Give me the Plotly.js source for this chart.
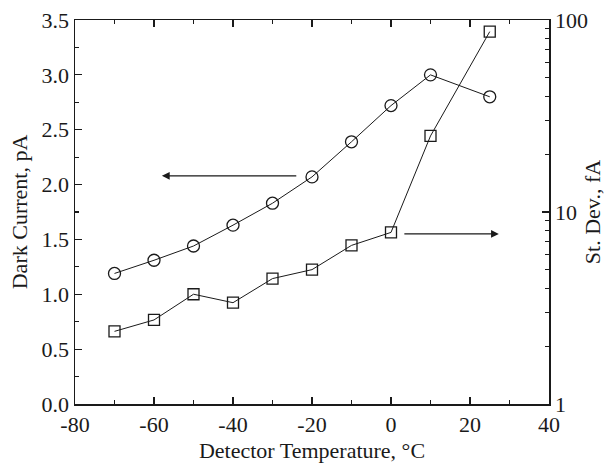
<!DOCTYPE html>
<html>
<head>
<meta charset="utf-8">
<script src="https://cdn.plot.ly/plotly-3.0.1.min.js"></script>
<style>html,body{margin:0;padding:0;background:#fff;}#chart{width:605px;height:463px;}</style>
</head>
<body>
<div id="chart"></div>
<script>
const temperature = [-70, -60, -50, -40, -30, -20, -10, 0, 10, 25];
const darkCurrent = [1.19, 1.31, 1.44, 1.63, 1.83, 2.07, 2.39, 2.72, 3.00, 2.80];
const stDev = [2.39, 2.74, 3.73, 3.37, 4.50, 5.01, 6.70, 7.83, 24.9, 87.0];

const xTickVals = [-80, -60, -40, -20, 0, 20, 40];
const xTickText = ['-80', '-60', '-40', '-20', '0', '20', '40'];
const y2TickVals = [1, 10, 100];
const y2TickText = ['1', '10', '100'];
const y2MinorVals = [2, 3, 4, 5, 6, 7, 8, 9, 20, 30, 40, 50, 60, 70, 80, 90];

const fontFam = '"Liberation Serif", "Times New Roman", serif';
const ink = '#1a1a1a';
const fs = 22;

const traces = [
  {
    x: temperature, y: darkCurrent, type: 'scatter', mode: 'lines+markers',
    line: {color: ink, width: 1},
    marker: {symbol: 'circle-open', size: 12, color: ink, line: {width: 1.3, color: ink}},
    yaxis: 'y', showlegend: false
  },
  {
    x: temperature, y: stDev, type: 'scatter', mode: 'lines+markers',
    line: {color: ink, width: 1},
    marker: {symbol: 'square-open', size: 11, color: ink, line: {width: 1.3, color: ink}},
    yaxis: 'y2', showlegend: false
  }
];

const layout = {
  width: 605, height: 463,
  margin: {l: 75, r: 56, t: 20, b: 59},
  paper_bgcolor: '#fff', plot_bgcolor: '#fff',
  font: {family: fontFam, size: fs, color: ink},
  showlegend: false,
  xaxis: {
    range: [-80, 40], tickmode: 'array', tickvals: xTickVals, ticktext: xTickText,
    ticks: 'inside', ticklen: 7, tickwidth: 1.2, tickcolor: ink,
    minor: {dtick: 10, tick0: -80, ticks: 'inside', ticklen: 4, tickwidth: 1.2, tickcolor: ink},
    showline: true, linewidth: 1.5, linecolor: ink, mirror: 'ticks',
    showgrid: false, zeroline: false,
    tickfont: {family: fontFam, size: fs, color: ink},
    title: {text: 'Detector Temperature, °C', font: {family: fontFam, size: fs, color: ink}, standoff: 6}
  },
  yaxis: {
    range: [0, 3.5], dtick: 0.5, tick0: 0, tickformat: '.1f',
    ticks: 'inside', ticklen: 7, tickwidth: 1.2, tickcolor: ink,
    minor: {dtick: 0.25, ticks: 'inside', ticklen: 4, tickwidth: 1.2, tickcolor: ink},
    showline: true, linewidth: 1.5, linecolor: ink,
    showgrid: false, zeroline: false,
    tickfont: {family: fontFam, size: fs, color: ink},
    title: {text: 'Dark Current, pA', font: {family: fontFam, size: fs, color: ink}, standoff: 8}
  },
  yaxis2: {
    type: 'log', range: [0, 2], overlaying: 'y', side: 'right',
    tickmode: 'array', tickvals: y2TickVals, ticktext: y2TickText,
    ticks: 'inside', ticklen: 7, tickwidth: 1.2, tickcolor: ink,
    minor: {tickmode: 'array', tickvals: y2MinorVals, ticks: 'inside', ticklen: 4, tickwidth: 1.2, tickcolor: ink, showgrid: false},
    showline: true, linewidth: 1.5, linecolor: ink,
    showgrid: false, zeroline: false,
    tickfont: {family: fontFam, size: fs, color: ink},
    title: {text: 'St. Dev., fA', font: {family: fontFam, size: fs, color: ink}, standoff: 12}
  },
  annotations: [
    {x: -58, y: 2.08, ax: -23.6, ay: 2.08, xref: 'x', yref: 'y', axref: 'x', ayref: 'y',
     text: '', showarrow: true, arrowhead: 2, arrowsize: 1.3, arrowwidth: 1.2, arrowcolor: ink},
    {x: 27.3, y: 1.55, ax: 3.0, ay: 1.55, xref: 'x', yref: 'y', axref: 'x', ayref: 'y',
     text: '', showarrow: true, arrowhead: 2, arrowsize: 1.3, arrowwidth: 1.2, arrowcolor: ink}
  ]
};

Plotly.newPlot('chart', traces, layout, {displayModeBar: false, staticPlot: true});
</script>
</body>
</html>
